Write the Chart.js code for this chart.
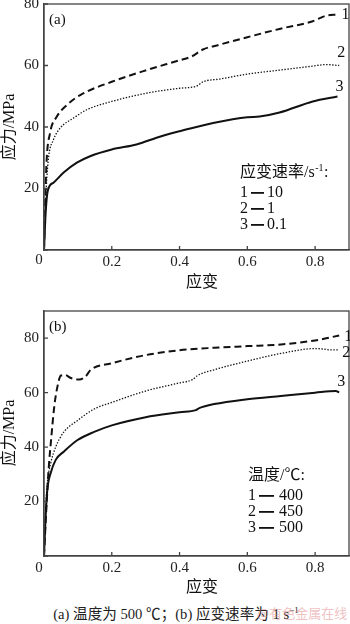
<!DOCTYPE html>
<html>
<head>
<meta charset="utf-8">
<script src="https://cdn.jsdelivr.net/npm/chart.js@4.4.0/dist/chart.umd.min.js"></script>
<style>
body { margin: 0; background: #fff; width: 350px; height: 624px; overflow: hidden; position: relative; }
canvas { position: absolute; left: 0; }
#caption { position: absolute; left: 0; top: 602px; width: 352px; text-align: center;
  font: 14.6px "Liberation Serif", "Noto Sans CJK SC"; color: #222; }
#caption sup { font-size: 9px; }
#mark { position: absolute; left: 257px; top: 603px; font: 13px "Noto Sans CJK SC"; color: rgba(225, 140, 140, 0.55); }
</style>
</head>
<body>
<canvas id="chartA" width="350" height="300" style="top:0"></canvas>
<canvas id="chartB" width="350" height="300" style="top:300px"></canvas>
<div id="caption">(a) 温度为 500 ℃；(b) 应变速率为 1 s<sup>−1</sup></div>
<div id="mark">@有色金属在线</div>
<script>
// (a) 500 ℃, different strain rates
const strainA1 = [0, 0.007, 0.018, 0.038, 0.068, 0.107, 0.2, 0.303, 0.4, 0.435, 0.469, 0.519, 0.6, 0.695, 0.793, 0.832, 0.866];
const stressA1 = [0, 27.3, 38.1, 43.4, 47.2, 50.4, 54.7, 58.5, 61.7, 62.9, 65.2, 66.8, 69.2, 71.9, 74.4, 76.2, 76.6];
const strainA2 = [0, 0.003, 0.007, 0.014, 0.028, 0.048, 0.087, 0.126, 0.2, 0.303, 0.4, 0.45, 0.469, 0.519, 0.6, 0.695, 0.793, 0.832, 0.871];
const stressA2 = [0, 10, 20.8, 30.5, 35.9, 39.7, 42.9, 45.6, 48.3, 51, 52.6, 53.3, 54.7, 55.6, 57.2, 58.5, 59.8, 60.3, 60];
const strainA3 = [0, 0.005, 0.011, 0.028, 0.058, 0.097, 0.136, 0.2, 0.273, 0.332, 0.371, 0.4, 0.499, 0.6, 0.636, 0.695, 0.793, 0.866];
const stressA3 = [0, 12.3, 19.2, 21.9, 25.2, 28.4, 30.5, 32.7, 34.3, 36.5, 37.8, 38.6, 41.3, 43.2, 43.4, 44.7, 48.3, 49.9];

// (b) 1 s^-1, different temperatures
const strainB1 = [0, 0.008, 0.015, 0.02, 0.03, 0.038, 0.05, 0.062, 0.079, 0.104, 0.123, 0.138, 0.2, 0.3, 0.4, 0.502, 0.6, 0.699, 0.8, 0.871];
const stressB1 = [0, 19.8, 34.2, 41.4, 54.6, 61.2, 66.3, 66.5, 65.4, 64.8, 66, 68.4, 70.8, 73.8, 75.6, 76.5, 77.1, 77.7, 79.2, 81];
const strainB2 = [0, 0.005, 0.01, 0.02, 0.035, 0.059, 0.099, 0.148, 0.2, 0.3, 0.4, 0.438, 0.453, 0.502, 0.6, 0.699, 0.8, 0.826, 0.846, 0.871];
const stressB2 = [0, 17.4, 27, 34.2, 40.2, 45.6, 49.8, 54, 56.4, 60.6, 63.6, 64.8, 66.3, 68.4, 71.6, 74.4, 76.2, 76, 75.7, 75.7];
const strainB3 = [0, 0.005, 0.01, 0.02, 0.035, 0.059, 0.099, 0.148, 0.2, 0.3, 0.4, 0.448, 0.458, 0.502, 0.6, 0.699, 0.8, 0.861, 0.871];
const stressB3 = [0, 15, 24.6, 30.6, 35.4, 38.4, 42.6, 45.6, 48, 51, 52.8, 53.6, 54.3, 55.8, 57.6, 58.8, 60, 60.6, 60.1];

const curveNames = ['1', '2', '3'];
const legendA = ['10', '1', '0.1'];
const legendB = ['400', '450', '500'];

const serif = '"Liberation Serif", "Noto Sans CJK SC"';
const ink = '#111';

function pts(xs, ys) {
    return xs.map((x, i) => ({ x: x, y: ys[i] }));
}

function series(xs, ys, style) {
    return Object.assign({
        data: pts(xs, ys),
        borderColor: ink,
        pointRadius: 0,
        fill: false,
        cubicInterpolationMode: 'monotone'
    }, style);
}

const dashed = { borderWidth: 2, borderDash: [7, 4] };
const dotted = { borderWidth: 1.3, borderDash: [1.4, 1.6] };
const solid = { borderWidth: 2 };

// frame, inner ticks and all the text inside the figure
const decor = {
    id: 'decor',
    afterDraw(chart, args, o) {
        const ctx = chart.ctx;
        const a = chart.chartArea;
        const xs = chart.scales.x, ys = chart.scales.y;
        ctx.save();
        ctx.strokeStyle = '#444';
        ctx.lineWidth = 1.3;
        ctx.strokeRect(a.left, a.top, a.right - a.left, a.bottom - a.top);
        ctx.beginPath();
        xs.ticks.forEach(t => {
            const px = xs.getPixelForValue(t.value);
            ctx.moveTo(px, a.bottom); ctx.lineTo(px, a.bottom - 4);
        });
        ys.ticks.forEach(t => {
            const py = ys.getPixelForValue(t.value);
            ctx.moveTo(a.left, py); ctx.lineTo(a.left + 4, py);
        });
        ctx.stroke();

        ctx.fillStyle = ink;
        ctx.textBaseline = 'middle';
        ctx.font = '15px ' + serif;
        // shared origin label sits left of the corner
        ctx.textAlign = 'center';
        ctx.fillStyle = '#222';
        ctx.fillText('0', a.left - 5, a.bottom + o.zeroDy);
        ctx.fillStyle = ink;
        ctx.textAlign = 'left';
        ctx.fillText(o.panel, a.left + 5, a.top + 16);

        // curve end numbers
        ctx.font = '16px ' + serif;
        chart.data.datasets.forEach((ds, i) => {
            const last = ds.data[ds.data.length - 1];
            const off = o.endOffsets[i];
            ctx.fillText(curveNames[i], xs.getPixelForValue(last.x) + off[0], ys.getPixelForValue(last.y) + off[1]);
        });

        // legend block
        const lx = o.legendX, ly = o.legendY;
        ctx.fillText(o.legendTitle, lx, ly);
        let w = ctx.measureText(o.legendTitle).width;
        if (o.legendSup) {
            ctx.font = '10px ' + serif;
            ctx.fillText(o.legendSup, lx + w + 0.5, ly - 5);
            w += ctx.measureText(o.legendSup).width + 1;
            ctx.font = '16px ' + serif;
        }
        ctx.fillText(':', lx + w, ly);
        o.legendValues.forEach((v, i) => {
            const y = ly + 20 + i * 16;
            ctx.fillText(curveNames[i], lx, y);
            ctx.fillRect(lx + o.dash[0], y - 1, o.dash[1] - o.dash[0], 1.8);
            ctx.fillText(v, lx + o.dash[2], y);
        });

        // axis titles
        ctx.textAlign = 'center';
        ctx.fillText('应变', 202, o.xTitleY);
        ctx.translate(10, o.yTitleY);
        ctx.rotate(-Math.PI / 2);
        ctx.fillText('应力/MPa', 0, 0);
        ctx.restore();
    }
};

function makeChart(id, datasets, yMax, pad, xHeight, deco) {
    return new Chart(document.getElementById(id), {
        type: 'line',
        data: { datasets: datasets },
        options: {
            responsive: false,
            animation: false,
            devicePixelRatio: 1,
            layout: { padding: pad },
            plugins: { legend: { display: false }, tooltip: { enabled: false }, decor: deco },
            scales: {
                x: {
                    type: 'linear', min: 0, max: 0.9,
                    afterFit: s => { s.height = xHeight; s.paddingLeft = 0; s.paddingRight = 0; },
                    grid: { drawOnChartArea: false, drawTicks: false },
                    border: { color: '#444', width: 1.3 },
                    ticks: {
                        stepSize: 0.2, includeBounds: false, padding: 3, color: '#222',
                        font: { family: serif, size: 15 },
                        callback: v => v === 0 ? '' : v.toFixed(1)
                    }
                },
                y: {
                    min: 0, max: yMax,
                    afterFit: s => { s.width = 44; s.paddingTop = 0; s.paddingBottom = 0; },
                    grid: { drawOnChartArea: false, drawTicks: false },
                    border: { color: '#444', width: 1.3 },
                    ticks: {
                        stepSize: 20, includeBounds: false, padding: 5, color: '#222',
                        font: { family: serif, size: 15 },
                        callback: v => v === 0 ? '' : v
                    }
                }
            }
        },
        plugins: [decor]
    });
}

makeChart('chartA', [
    series(strainA1, stressA1, dashed),
    series(strainA2, stressA2, dotted),
    series(strainA3, stressA3, solid)
], 80, { top: 4, right: 1, left: 0 }, 50, {
    panel: '(a)',
    endOffsets: [[4, 0], [-2, -13], [-2, -10]],
    legendTitle: '应变速率/s', legendSup: '-1',
    legendValues: legendA, legendX: 240, legendY: 173, dash: [11, 24, 27],
    xTitleY: 283, yTitleY: 127, zeroDy: 10
});

makeChart('chartB', [
    series(strainB1, stressB1, dashed),
    series(strainB2, stressB2, dotted),
    series(strainB3, stressB3, solid)
], 90, { top: 11, right: 1, left: 0 }, 44, {
    panel: '(b)',
    endOffsets: [[5, 1], [3, 3], [-2, -11]],
    legendTitle: '温度/℃', legendSup: '',
    legendValues: legendB, legendX: 248, legendY: 176, dash: [11, 26, 31],
    xTitleY: 288, yTitleY: 133, zeroDy: 12
});
</script>
</body>
</html>
